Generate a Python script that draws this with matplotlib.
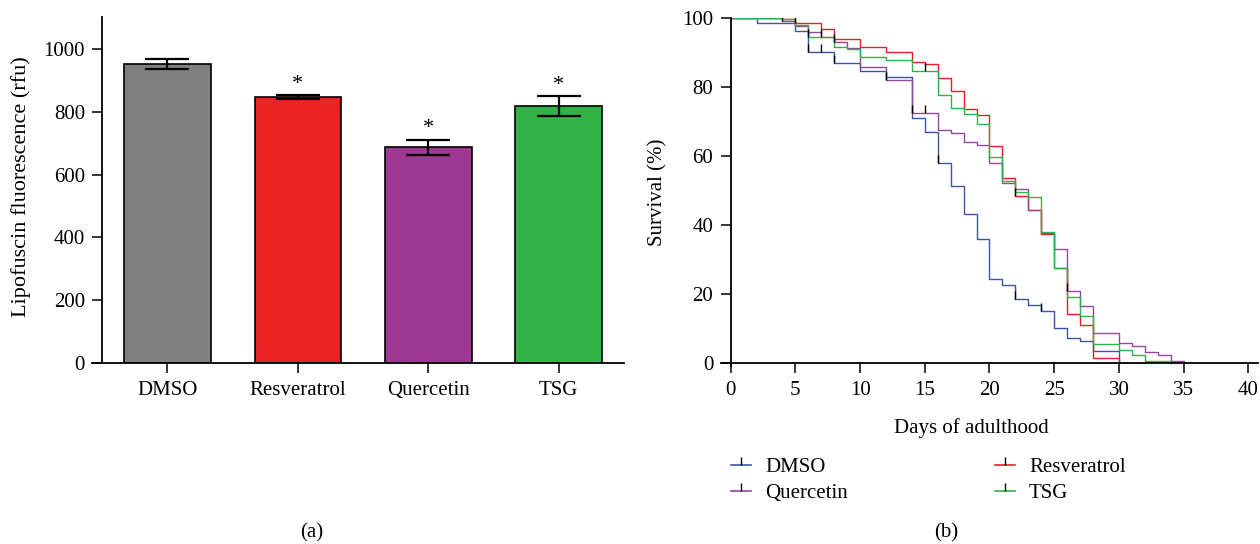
import numpy as np
import matplotlib
matplotlib.use('Agg')
import matplotlib.pyplot as plt
from matplotlib.lines import Line2D
from matplotlib.legend_handler import HandlerTuple

plt.rcParams['font.family'] = ['Liberation Serif', 'DejaVu Serif']
plt.rcParams['font.size'] = 15

# (a) lipofuscin bars
groups = ['DMSO', 'Resveratrol', 'Quercetin', 'TSG']
lipo_mean = [952, 846, 687, 818]
lipo_err = [15, 6, 24, 31]
lipo_sig = [False, True, True, True]
bar_colors = ['#808080', '#ED2224', '#9D3993', '#32B34A']

# (b) survival curves, step values start at the listed day
dmso_days = [0, 2, 5, 6, 8, 10, 12, 14, 15, 16, 17, 18, 19, 20, 21, 22, 23, 24, 25, 26, 27, 28, 30]
dmso_surv = [100, 98.4, 96.2, 90.0, 87.0, 84.6, 82.8, 70.9, 66.8, 57.9, 51.4, 43.3, 35.9, 24.5,
             22.7, 18.7, 17.0, 15.0, 10.3, 7.4, 6.5, 3.6, 0]
dmso_cens = [6, 7, 8, 16, 22, 24]

res_days = [0, 4, 5, 7, 8, 10, 12, 14, 15, 16, 17, 18, 19, 20, 21, 22, 23, 24, 25, 26, 27, 28, 30]
res_surv = [100, 99.6, 98.4, 96.7, 93.8, 91.6, 90.0, 87.1, 86.6, 82.5, 78.9, 73.5, 71.8, 62.9,
            53.7, 48.4, 44.4, 37.3, 27.7, 14.3, 11.1, 1.4, 0]
res_cens = [3, 5, 22]

que_days = [0, 4, 5, 6, 7, 8, 9, 10, 12, 14, 16, 17, 18, 19, 20, 21, 22, 23, 24, 25, 26, 27, 28,
            30, 31, 32, 33, 34, 35]
que_surv = [100, 99.1, 97.7, 96.0, 94.3, 92.9, 91.1, 85.6, 82.0, 72.5, 67.5, 66.6, 64.1, 63.1,
            58.0, 52.1, 50.3, 44.4, 37.6, 33.1, 21.0, 16.7, 8.7, 6.0, 5.1, 3.3, 2.4, 0.7, 0]
que_cens = [4, 7, 8, 12, 14, 15, 26]

tsg_days = [0, 4, 5, 6, 8, 9, 10, 12, 14, 16, 17, 18, 19, 20, 21, 22, 23, 24, 25, 26, 27, 28,
            30, 31, 32, 34]
tsg_surv = [100, 99.6, 97.9, 94.5, 91.6, 90.9, 88.5, 87.8, 84.7, 77.6, 73.8, 72.1, 69.2, 59.8,
            52.7, 49.7, 48.0, 38.0, 27.7, 19.3, 13.7, 5.6, 3.8, 2.4, 0.7, 0]
tsg_cens = [6, 15]

fig = plt.figure(figsize=(12.6, 5.44), dpi=100)

# ---- panel a ----
ax1 = fig.add_axes([0.0734, 0.3322, 0.4218, 0.636])
x = np.arange(len(groups))
ax1.bar(x, lipo_mean, width=0.665, color=bar_colors, edgecolor='black', linewidth=1.2, zorder=2)
ax1.errorbar(x, lipo_mean, yerr=lipo_err, fmt='none', ecolor='black', elinewidth=1.6,
             capsize=15.5, capthick=1.6, zorder=3)
for xi, m, e, s in zip(x, lipo_mean, lipo_err, lipo_sig):
    if s:
        ax1.annotate('*', (xi, m + e), xytext=(0, 1), textcoords='offset points',
                     ha='center', va='bottom', fontsize=16)
ax1.set_xlim(-0.575, 3.5)
ax1.set_ylim(0, 1100)
ax1.set_yticks([0, 200, 400, 600, 800, 1000])
ax1.set_xticks(x)
ax1.set_xticklabels(groups)
ax1.spines['left'].set_position(('data', -0.5))
ax1.spines[['top', 'right']].set_visible(False)
ax1.set_ylabel('Lipofuscin fluorescence (rfu)', fontsize=16)
ax1.yaxis.set_label_coords(-0.116, 0.51)

# ---- panel b ----
ax2 = fig.add_axes([0.572, 0.3265, 0.4264, 0.641])
series = [
    ('DMSO', dmso_days, dmso_surv, dmso_cens, '#3A55A6'),
    ('Resveratrol', res_days, res_surv, res_cens, '#ED1C24'),
    ('Quercetin', que_days, que_surv, que_cens, '#9446A3'),
    ('TSG', tsg_days, tsg_surv, tsg_cens, '#2EB34A'),
]
handles = {}
for name, d, s, c, col in series:
    ax2.step(d, s, where='post', color=col, lw=1.0, zorder=2)
    d = np.array(d)
    s = np.array(s)
    idx = np.searchsorted(d, c, side='right') - 1
    ax2.plot(c, s[idx], ls='none', marker=2, color='black', ms=6, mew=1.0, zorder=3)
    handles[name] = (Line2D([], [], color=col, lw=1.2),
                     Line2D([], [], color='black', ls='none', marker=2, ms=6, mew=1.0))

ax2.set_xlim(-0.77, 40.75)
ax2.set_ylim(-0.9, 100)
ax2.set_xticks(np.arange(0, 41, 5))
ax2.set_yticks(np.arange(0, 101, 20))
ax2.spines['left'].set_position(('data', 0))
ax2.spines['bottom'].set_position(('data', 0))
ax2.spines[['top', 'right']].set_visible(False)
ax2.set_ylabel('Survival (%)')
ax2.yaxis.set_label_coords(-0.1, 0.5)
ax2.set_xlabel('Days of adulthood')
ax2.xaxis.set_label_coords(0.466, -0.147)

order = ['DMSO', 'Quercetin', 'Resveratrol', 'TSG']
ax2.legend([handles[n] for n in order], order, ncol=2, frameon=False,
           handler_map={tuple: HandlerTuple(ndivide=1, pad=0)},
           handlelength=1.0, handletextpad=0.65, columnspacing=7.05,
           labelspacing=0.3, loc='upper left', bbox_to_anchor=(0.003, -0.238),
           borderaxespad=0)

for ax in (ax1, ax2):
    for sp in ax.spines.values():
        sp.set_linewidth(1.3)
    ax.tick_params(width=1.1, length=7.5, direction='out', pad=5)

fig.text(312 / 1260, 1 - 533 / 544, '(a)', ha='center', va='center', fontsize=15)
fig.text(946 / 1260, 1 - 533 / 544, '(b)', ha='center', va='center', fontsize=15)

fig.savefig('out.png', dpi=100)
